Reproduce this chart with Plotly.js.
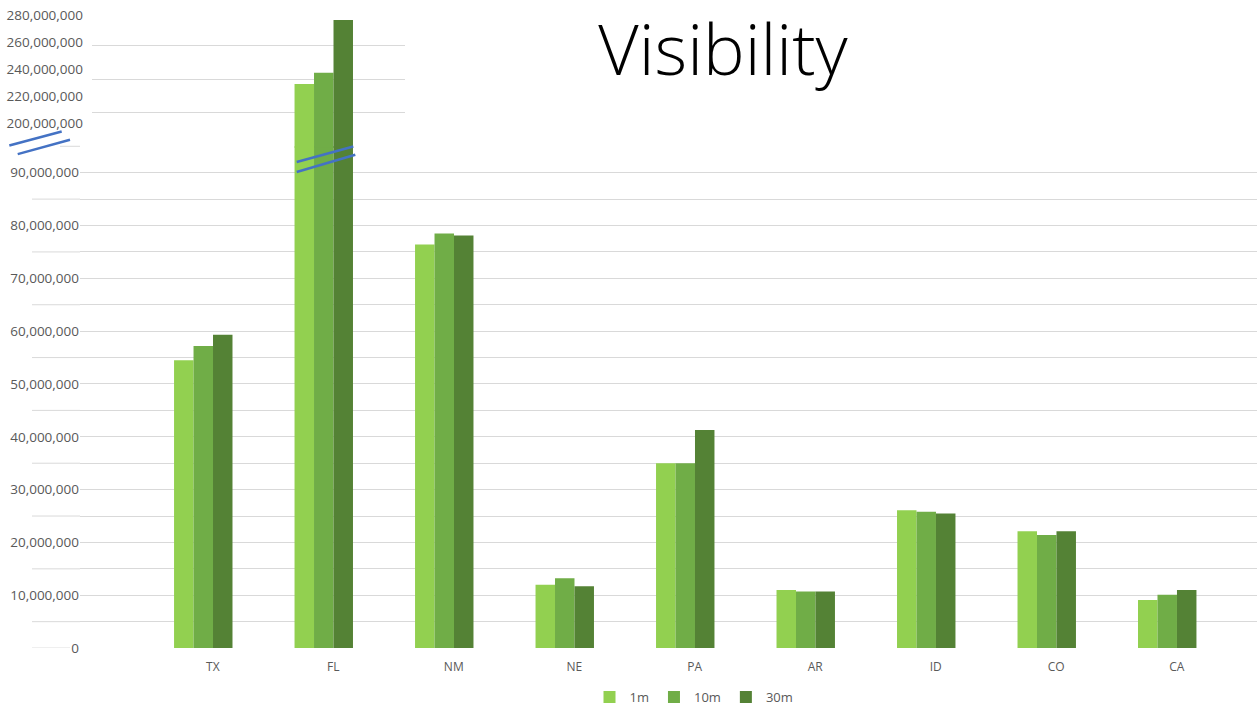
<!DOCTYPE html>
<html>
<head>
<meta charset="utf-8">
<script src="https://cdn.plot.ly/plotly-3.0.1.min.js"></script>
<style>html,body{margin:0;padding:0;background:#fff}#chart{width:1257px;height:712px}</style>
</head>
<body>
<div id="chart"></div>
<script>
const states = ["TX", "FL", "NM", "NE", "PA", "AR", "ID", "CO", "CA"];
const seriesNames = ["1m", "10m", "30m"];
const v1m  = [54.5e6, 237.0e6, 76.4e6, 12.0e6, 35.0e6, 11.0e6, 26.1e6, 22.1e6, 9.1e6];
const v10m = [57.2e6, 243.7e6, 78.5e6, 13.2e6, 35.0e6, 10.7e6, 25.8e6, 21.4e6, 10.1e6];
const v30m = [59.3e6, 275.4e6, 78.1e6, 11.7e6, 41.3e6, 10.7e6, 25.5e6, 22.1e6, 11.0e6];
const upperGridVals = [220e6, 240e6, 260e6, 280e6];
const colors = ["#92D050", "#70AD47", "#548235"];

const W = 1257, H = 712;
const px = x => x / W;
const py = y => 1 - y / H;

const seriesVals = [v1m, v10m, v30m];
const traces = [];
seriesVals.forEach((vals, i) => {
  traces.push({
    type: "bar", name: seriesNames[i], x: states, y: vals,
    xaxis: "x", yaxis: "y",
    marker: {color: colors[i], line: {width: 0}},
    hoverinfo: "x+y+name"
  });
});
seriesVals.forEach((vals, i) => {
  traces.push({
    type: "bar", name: seriesNames[i], x: states, y: vals,
    xaxis: "x2", yaxis: "y2", showlegend: false,
    marker: {color: colors[i], line: {width: 0}},
    hoverinfo: "x+y+name"
  });
});
// empty traces so the label-only axes are drawn
traces.push({type: "scatter", mode: "markers", x: [], y: [], xaxis: "x2", yaxis: "y3", showlegend: false, hoverinfo: "skip"});
traces.push({type: "scatter", mode: "markers", x: states, y: states.map(() => null), xaxis: "x3", yaxis: "y", showlegend: false, hoverinfo: "skip"});

const gridColor = "#d9d9d9";
const tickFont = {family: "Open Sans, Noto Sans, sans-serif", size: 13.5, color: "#595959"};

const shapes = [];
// minor gridline stubs left of the labels
const stubVals = [5e6, 15e6, 25e6, 35e6, 45e6, 55e6, 65e6, 75e6, 85e6];
stubVals.forEach(v => shapes.push({type: "line", xref: "paper", yref: "y", x0: px(32), x1: px(80), y0: v, y1: v, line: {color: gridColor, width: 1}, layer: "below"}));
shapes.push({type: "line", xref: "paper", yref: "y", x0: px(32), x1: px(70), y0: 0, y1: 0, line: {color: gridColor, width: 1}, layer: "below"});
shapes.push({type: "line", xref: "paper", yref: "paper", x0: px(60), x1: px(80), y0: py(146.5), y1: py(146.5), line: {color: gridColor, width: 1}, layer: "below"});
// axis break marks
const blue = "#4472C4";
[[9.3,145.7,61.7,131.7],[17.7,154.3,70,140],[296.7,162.3,353.3,146.7],[296.7,172.3,355.3,155]].forEach(s => {
  shapes.push({type: "line", xref: "paper", yref: "paper", x0: px(s[0]), y0: py(s[1]), x1: px(s[2]), y1: py(s[3]), line: {color: blue, width: 2.5}, layer: "above"});
});

const layout = {
  width: W, height: H,
  margin: {l: 0, r: 0, t: 0, b: 0, pad: 0},
  paper_bgcolor: "#ffffff", plot_bgcolor: "rgba(0,0,0,0)",
  barmode: "group", bargap: 0.515, bargroupgap: 0,
  title: {text: "Visibility", x: px(723), xanchor: "center", y: py(50), yanchor: "middle",
          font: {family: "Open Sans, Noto Sans, sans-serif", size: 70, color: "#000000", weight: 300}},
  xaxis: {domain: [px(80), 1], range: [-1.023, 8.745], anchor: "y", type: "category",
          categoryorder: "array", categoryarray: states,
          showgrid: false, zeroline: false, showline: false, ticks: "", showticklabels: false, automargin: false},
  xaxis3: {domain: [px(80), 1], range: [-1.102, 8.666], anchor: "y", overlaying: "x", type: "category",
           categoryorder: "array", categoryarray: states,
           showgrid: false, zeroline: false, showline: false, ticks: "", ticklabelstandoff: 10,
           tickfont: {family: "Open Sans, Noto Sans, sans-serif", size: 12, color: "#595959"}, automargin: false},
  yaxis: {domain: [py(649), py(146.5)], range: [0, 95e6], anchor: "x",
          dtick: 10e6, tick0: 0, tickformat: ",d", showgrid: true, gridcolor: gridColor, gridwidth: 1,
          minor: {dtick: 5e6, tick0: 0, showgrid: true, gridcolor: gridColor, gridwidth: 1},
          zeroline: false, showline: false, ticks: "", tickfont: tickFont, automargin: false},
  xaxis2: {domain: [px(92), px(405)], range: [-0.923, 1.674], anchor: "y2", type: "category",
           categoryorder: "array", categoryarray: states,
           showgrid: false, zeroline: false, showline: false, showticklabels: false, ticks: "", automargin: false},
  yaxis2: {domain: [py(148), py(12.3)], range: [198.8e6, 280e6], anchor: "x2",
           tickmode: "array", tickvals: upperGridVals, showgrid: true, gridcolor: gridColor, gridwidth: 1,
           zeroline: false, showline: false, showticklabels: false, ticks: "", automargin: false},
  yaxis3: {domain: [py(148), py(12.3)], range: [181.5e6, 282e6], overlaying: "y2", anchor: "free", position: px(83),
           dtick: 20e6, tick0: 0, tickformat: ",d", showgrid: false, zeroline: false, showline: false,
           ticks: "", tickfont: tickFont, automargin: false},
  legend: {orientation: "h", x: px(694), xanchor: "center", y: py(698), yanchor: "middle",
           font: {family: "Open Sans, Noto Sans, sans-serif", size: 13, color: "#595959"},
           itemwidth: 30, traceorder: "normal", bgcolor: "rgba(0,0,0,0)"},
  shapes: shapes,
  showlegend: true
};

Plotly.newPlot("chart", traces, layout, {displayModeBar: false, staticPlot: true});
</script>
</body>
</html>
